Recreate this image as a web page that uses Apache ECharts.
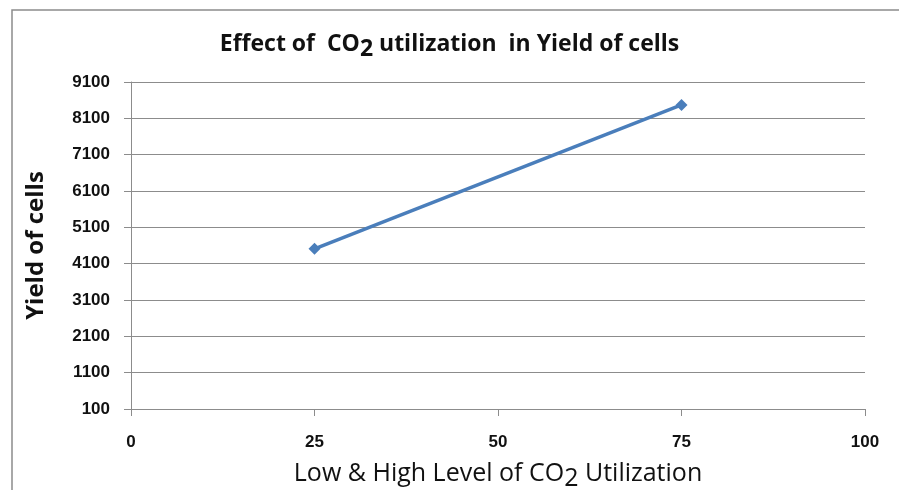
<!DOCTYPE html>
<html>
<head>
<meta charset="utf-8">
<script src="https://cdn.jsdelivr.net/npm/echarts@6/dist/echarts.min.js"></script>
<style>
  html, body { margin: 0; padding: 0; background: #fff; }
  #chart { width: 899px; height: 490px; }
</style>
</head>
<body>
<div id="chart"></div>
<script>
// values
var co2Levels = [25, 75];
var cellYield = [4510, 8470];
var xTicks = [0, 25, 50, 75, 100];
var yTicks = [100, 1100, 2100, 3100, 4100, 5100, 6100, 7100, 8100, 9100];

var chart = echarts.init(document.getElementById('chart'));
var font = 'Liberation Sans, Arial, sans-serif';
var titleFont = 'Open Sans, Liberation Sans, sans-serif';

var points = co2Levels.map(function (x, i) { return [x, cellYield[i]]; });

chart.setOption({
    animation: false,
    backgroundColor: '#fff',
    graphic: [{
        type: 'rect',
        shape: { x: 12, y: 10, width: 900, height: 500 },
        style: { fill: 'none', stroke: '#8c8c8c', lineWidth: 1.5 },
        silent: true
    }],
    title: {
        text: '{t|Effect of  CO}{s|2}{t| utilization  in Yield of cells}',
        left: 'center',
        top: 26,
        textStyle: {
            rich: {
                t: { fontFamily: titleFont, fontWeight: 'bold', fontSize: 23, color: '#111', lineHeight: 30, verticalAlign: 'top', padding: [2, 0, 0, 0] },
                s: { fontFamily: titleFont, fontWeight: 'bold', fontSize: 23, color: '#111', lineHeight: 30, verticalAlign: 'bottom', padding: [10, 0, 0, 0] }
            }
        }
    },
    grid: { left: 131, right: 34, top: 82, bottom: 81, outerBoundsMode: 'none' },
    xAxis: {
        type: 'value',
        min: xTicks[0],
        max: xTicks[xTicks.length - 1],
        interval: 25,
        name: '{t|Low & High Level of CO}{s|2}{t| Utilization}',
        nameLocation: 'middle',
        nameGap: 52,
        nameTextStyle: {
            rich: {
                t: { fontFamily: titleFont, fontSize: 25, color: '#111', fontWeight: 500, lineHeight: 30, verticalAlign: 'top', padding: [0, 0, 0, 0] },
                s: { fontFamily: titleFont, fontSize: 25, color: '#111', fontWeight: 500, lineHeight: 30, verticalAlign: 'bottom', padding: [10, 0, 0, 0] }
            }
        },
        axisLine: { show: true, lineStyle: { color: '#8c8c8c', width: 1 } },
        axisTick: { show: true, length: 7, lineStyle: { color: '#8c8c8c' } },
        splitLine: { show: false },
        axisLabel: { fontFamily: font, fontWeight: 'bold', fontSize: 17, color: '#111', margin: 25 }
    },
    yAxis: {
        type: 'value',
        min: yTicks[0],
        max: yTicks[yTicks.length - 1],
        interval: 1000,
        name: 'Yield of cells',
        nameLocation: 'middle',
        nameGap: 83,
        nameTextStyle: { fontFamily: titleFont, fontWeight: 'bold', fontSize: 24, color: '#111' },
        axisLine: { show: true, lineStyle: { color: '#8c8c8c', width: 1 } },
        axisTick: { show: true, length: 7, lineStyle: { color: '#8c8c8c' } },
        splitLine: { show: true, lineStyle: { color: '#8c8c8c', width: 1 } },
        axisLabel: {
            fontFamily: font, fontWeight: 'bold', fontSize: 17, color: '#111', margin: 21,
            formatter: function (v) { return String(v); }
        }
    },
    series: [{
        type: 'line',
        data: points,
        symbol: 'diamond',
        symbolSize: 12,
        lineStyle: { color: '#4a7ebb', width: 3.5 },
        itemStyle: { color: '#4a7ebb' }
    }]
});
</script>
</body>
</html>
